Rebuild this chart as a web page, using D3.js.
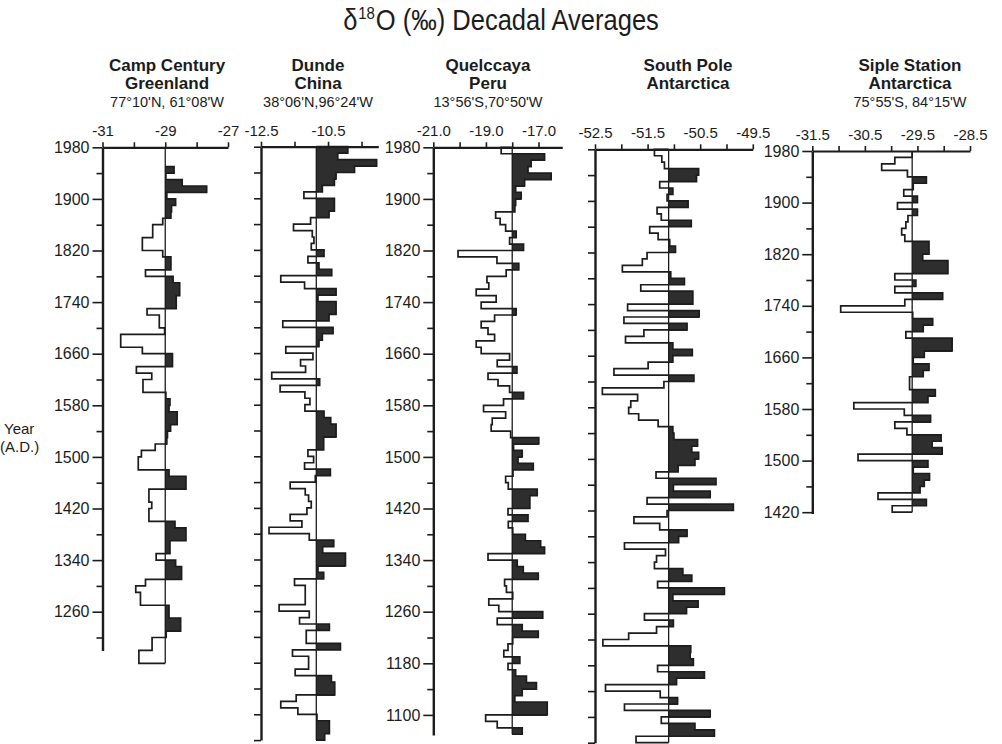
<!DOCTYPE html>
<html>
<head>
<meta charset="utf-8">
<script src="https://cdn.jsdelivr.net/npm/d3@7"></script>
<style>
  body { margin: 0; background: #fff; }
  svg text { font-family: 'Liberation Sans', Arial, sans-serif; fill: #1c1c1c; }
</style>
</head>
<body>
<svg id="chart" width="1002" height="744"></svg>
<script>
// decadal d18O values, first entry is the decade just below the start year
const campCenturyStart = 1950
const campCentury = [
  -28.72, -28.98, -28.46, -27.68, -28.95, -28.67, -28.80, -28.82, -29.08, -29.40,
  -29.40, -29.73, -29.73, -29.08, -28.82, -28.82, -29.63, -28.75, -28.54, -28.54,
  -28.65, -28.65, -29.58, -29.19, -29.19, -29.02, -30.42, -30.42, -29.73, -28.77,
  -28.77, -29.92, -29.43, -29.71, -29.71, -28.98, -28.85,
  -28.88, -28.62, -28.62, -28.83, -28.93, -28.95, -29.32, -29.76, -29.86, -29.86,
  -28.88, -28.34, -28.34, -29.52, -29.52, -29.43, -29.52, -29.52, -28.69, -28.34,
  -28.34, -28.85, -28.85, -29.29, -28.67, -28.48, -28.48, -29.63, -29.94, -29.79,
  -29.79, -28.88, -28.88, -28.51, -28.51, -28.97, -29.42, -29.42, -29.84, -29.84
]
const dundeStart = 1980
const dunde = [
  -9.91, -10.21, -9.05, -9.71, -10.26, -10.31, -10.67, -11.22, -10.31, -10.31,
  -10.47, -11.02, -11.53, -10.97, -10.92, -11.00, -10.62, -11.10, -10.77, -10.39,
  -11.91, -11.20, -10.26, -10.80, -10.26, -10.26, -10.47, -11.85, -10.35, -10.67,
  -10.77, -11.76, -10.95, -11.32, -11.17, -12.18, -10.75, -11.93, -11.19, -11.04,
  -11.19, -10.62, -10.42, -10.26, -10.26, -10.63, -10.63, -11.10, -10.93, -11.20,
  -10.43, -10.88, -11.63, -11.18, -11.08, -11.00, -11.13, -11.63, -11.28, -12.26,
  -11.06, -10.33, -10.66, -9.98, -9.98, -10.80, -10.63, -11.50, -11.18, -11.18,
  -11.18, -11.96, -11.06, -11.35, -10.46, -11.15, -11.15, -10.13, -11.56, -11.08,
  -11.08, -11.48, -10.40, -10.30, -10.30, -11.45, -11.91, -11.40, -10.83, -10.46,
  -10.46, -10.60
]
const quelccayaStart = 1980
const quelccaya = [
  -18.42, -16.77, -17.28, -17.40, -16.52, -17.53, -17.87, -17.66, -17.87, -17.90,
  -18.63, -18.46, -18.25, -17.85, -18.10, -17.57, -20.06, -18.58, -17.75, -18.23,
  -18.96, -18.89, -19.37, -18.61, -19.18, -17.85, -18.67, -19.18, -18.92, -18.67,
  -19.37, -19.18, -18.10, -18.57, -17.82, -18.92, -18.54, -18.10, -17.57, -18.33,
  -19.09, -18.25, -18.76, -18.80, -18.06, -16.99, -17.95, -17.62, -17.78, -17.20,
  -17.97, -18.25, -18.15, -17.05, -17.33, -17.33, -18.16, -17.40, -18.15, -17.98,
  -17.50, -16.92, -16.77, -18.92, -17.81, -17.58, -17.01, -18.29, -18.22, -17.98,
  -18.89, -18.51, -16.84, -18.57, -17.62, -17.01, -17.98, -18.16, -18.32, -17.71,
  -18.16, -17.87, -17.46, -17.08, -17.62, -17.90, -16.67, -16.67, -19.01, -18.57,
  -17.62
]
const southPoleStart = 1980
const southPole = [
  -51.37, -51.23, -51.18, -50.53, -50.57, -51.27, -51.02, -51.13, -50.73, -51.32,
  -51.24, -50.67, -51.46, -51.30, -51.08, -50.97, -51.51, -51.60, -51.98, -51.06,
  -50.80, -51.63, -50.64, -50.64, -51.88, -50.52, -51.95, -50.75, -51.57, -51.92,
  -51.02, -50.65, -51.02, -51.49, -52.14, -50.62, -51.19, -52.36, -51.69, -51.82,
  -51.86, -51.67, -51.30, -51.02, -51.00, -50.55, -50.66, -50.53, -50.60, -50.92,
  -51.34, -50.20, -51.01, -50.31, -51.51, -49.87, -51.13, -51.76, -51.27, -50.75,
  -50.91, -51.94, -51.16, -51.33, -51.37, -50.83, -50.66, -51.31, -50.04, -51.02,
  -50.54, -50.76, -51.56, -51.01, -51.33, -51.86, -52.35, -50.68, -50.69, -50.63,
  -51.31, -50.42, -50.95, -52.30, -51.26, -50.93, -51.94, -50.31, -51.24, -50.60,
  -50.23, -51.72
]
const sipleStart = 1980
const siple = [
  -29.60, -29.93, -30.18, -29.69, -29.33, -29.58, -29.76, -29.50, -29.88, -29.50,
  -29.68, -29.72, -29.80, -29.74, -29.28, -29.28, -29.40, -28.92, -28.92, -29.93,
  -29.53, -29.93, -29.02, -29.74, -30.96, -29.59, -29.21, -29.39, -29.72, -28.84,
  -28.84, -29.37, -29.58, -29.28, -29.39, -29.65, -29.65, -29.16, -29.30, -30.71,
  -29.75, -29.25, -29.93, -29.70, -29.05, -29.22, -29.03, -30.63, -29.30, -29.58,
  -29.27, -29.37, -29.45, -30.25, -29.33, -29.98
]

// reference lines (the value that splits filled / open bars)
const campBase = -29, dundeBase = -10.85, quelBase = -18, southBase = -51.1, sipleBase = -29.6

// top axis ticks and the ones that carry a label
const campTicks = [-31, -30, -29, -28, -27]
const campTickLabels = ['-31', '', '-29', '', '-27']
const dundeTicks = [-12.5, -11.5, -10.5, -9.5]
const dundeTickLabels = ['-12.5', '', '-10.5', '']
const quelTicks = [-21, -20, -19, -18, -17]
const quelTickLabels = ['-21.0', '', '-19.0', '', '-17.0']
const southTicks = [-52.5, -52, -51.5, -51, -50.5, -50, -49.5]
const southTickLabels = ['-52.5', '', '-51.5', '', '-50.5', '', '-49.5']
const sipleTicks = [-31.5, -31, -30.5, -30, -29.5, -29, -28.5]
const sipleTickLabels = ['-31.5', '', '-30.5', '', '-29.5', '', '-28.5']

// year axis labels
const campYears = [1980, 1900, 1820, 1740, 1660, 1580, 1500, 1420, 1340, 1260]
const quelYears = [1980, 1900, 1820, 1740, 1660, 1580, 1500, 1420, 1340, 1260, 1180, 1100]
const sipleYears = [1980, 1900, 1820, 1740, 1660, 1580, 1500, 1420]

const svg = d3.select('#chart')
const pxPerYear = 0.645
const ink = '#1c1c1c'

const panels = [
  { name: ['Camp Century', 'Greenland'], coords: "77°10'N, 61°08'W", cx: 167,
    start: campCenturyStart, values: campCentury, base: campBase,
    domain: [-31, -27], range: [102.5, 228], top: 147.3, axisEnd: 1200,
    ticks: campTicks, tickLabels: campTickLabels, years: campYears, labelled: true },
  { name: ['Dunde', 'China'], coords: "38°06'N,96°24'W", cx: 318,
    start: dundeStart, values: dunde, base: dundeBase,
    domain: [-12.5, -9.0], range: [261, 378.3], top: 146.7, axisEnd: 1060,
    ticks: dundeTicks, tickLabels: dundeTickLabels, years: null, labelled: false },
  { name: ['Quelccaya', 'Peru'], coords: "13°56'S,70°50'W", cx: 488,
    start: quelccayaStart, values: quelccaya, base: quelBase,
    domain: [-21, -16.1], range: [433.3, 562.2], top: 147.3, axisEnd: 1069,
    ticks: quelTicks, tickLabels: quelTickLabels, years: quelYears, labelled: true },
  { name: ['South Pole', 'Antarctica'], coords: null, cx: 688,
    start: southPoleStart, values: southPole, base: southBase,
    domain: [-52.5, -49.5], range: [595, 752.8], top: 149.3, axisEnd: 1060,
    ticks: southTicks, tickLabels: southTickLabels, years: null, labelled: false },
  { name: ['Siple Station', 'Antarctica'], coords: "75°55'S, 84°15'W", cx: 910,
    start: sipleStart, values: siple, base: sipleBase,
    domain: [-31.5, -28.5], range: [812.3, 970], top: 151, axisEnd: 1418,
    ticks: sipleTicks, tickLabels: sipleTickLabels, years: sipleYears, labelled: true }
]

// title, squeezed horizontally to the narrow lettering of the original
const title = svg.append('g')
  .attr('transform', 'translate(501,30) scale(0.88,1)')
  .append('text')
  .attr('text-anchor', 'middle')
  .style('font-size', '29px')
title.append('tspan').text('δ')
title.append('tspan').attr('dx', 1).attr('dy', -11).style('font-size', '17px').text('18')
title.append('tspan').attr('dx', 1).attr('dy', 11).text('O (‰) Decadal Averages')

svg.append('text').attr('x', 4).attr('y', 434).style('font-size', '15px').text('Year')
svg.append('text').attr('x', 0).attr('y', 452).style('font-size', '15px').text('(A.D.)')

function drawPanel(p) {
  const g = svg.append('g')
  const x = d3.scaleLinear().domain(p.domain).range(p.range)
  const y = d3.scaleLinear()
    .domain([1980, p.axisEnd])
    .range([p.top, p.top + (1980 - p.axisEnd) * pxPerYear])

  // header
  g.append('text').attr('x', p.cx).attr('y', 71).attr('text-anchor', 'middle')
    .style('font-size', '17px').style('font-weight', 'bold').text(p.name[0])
  g.append('text').attr('x', p.cx).attr('y', 89).attr('text-anchor', 'middle')
    .style('font-size', '17px').style('font-weight', 'bold').text(p.name[1])
  if (p.coords) {
    g.append('text').attr('x', p.cx).attr('y', 107).attr('text-anchor', 'middle')
      .style('font-size', '14.5px').text(p.coords)
  }

  const end = p.start - 10 * p.values.length

  // filled bars for decades above the reference value
  g.selectAll('.bar')
    .data(p.values.map((v, i) => ({ v, y0: p.start - 10 * i, y1: p.start - 10 * (i + 1) })))
    .enter()
    .filter(d => d.v > p.base)
    .append('rect')
    .attr('x', x(p.base))
    .attr('y', d => y(d.y0))
    .attr('width', d => x(d.v) - x(p.base))
    .attr('height', d => y(d.y1) - y(d.y0) + 0.6)
    .attr('fill', '#2e2e2e')
    .attr('shape-rendering', 'crispEdges')

  // stepped outline
  const pts = [[p.base, p.start]]
  p.values.forEach((v, i) => {
    pts.push([v, p.start - 10 * i], [v, p.start - 10 * (i + 1)])
  })
  pts.push([p.base, end])
  const line = d3.line().x(d => x(d[0])).y(d => y(d[1]))
  g.append('path').attr('d', line(pts))
    .attr('fill', 'none').attr('stroke', ink).attr('stroke-width', 1.7)

  // reference line
  g.append('line')
    .attr('x1', x(p.base)).attr('x2', x(p.base))
    .attr('y1', y(1980)).attr('y2', y(end))
    .attr('stroke', ink).attr('stroke-width', 1.3)

  // top axis
  const top = g.append('g')
    .attr('transform', 'translate(0,' + p.top + ')')
    .call(d3.axisTop(x)
      .tickValues(p.ticks)
      .tickSize(5)
      .tickSizeOuter(0)
      .tickPadding(6)
      .tickFormat((d, i) => p.tickLabels[i]))
  top.select('.domain').attr('stroke', ink).attr('stroke-width', 2.2)
  top.selectAll('.tick line').attr('stroke', ink).attr('stroke-width', 1.6)
  top.selectAll('.tick text').style('font-size', '15px').attr('fill', ink)
    .style('font-family', "'Liberation Sans', sans-serif")

  // year axis
  const left = g.append('g').attr('transform', 'translate(' + p.range[0] + ',0)')
  const every40 = d3.range(1980, p.axisEnd - 1, -40)
  if (p.labelled) {
    const minor = every40.filter(yr => !p.years.includes(yr))
    left.call(d3.axisLeft(y).tickValues(p.years).tickSize(10).tickSizeOuter(0)
      .tickPadding(3).tickFormat(d3.format('d')))
    left.append('g').call(d3.axisLeft(y).tickValues(minor).tickSize(6)
      .tickSizeOuter(0).tickFormat(''))
      .select('.domain').remove()
  } else {
    left.call(d3.axisLeft(y).tickValues(every40).tickSize(7).tickSizeOuter(0).tickFormat(''))
  }
  left.selectAll('.domain').attr('stroke', ink).attr('stroke-width', 2.4)
  left.selectAll('.tick line').attr('stroke', ink).attr('stroke-width', 1.6)
  left.selectAll('.tick text').style('font-size', '16px').attr('fill', ink)
}

panels.forEach(drawPanel)
</script>
</body>
</html>
